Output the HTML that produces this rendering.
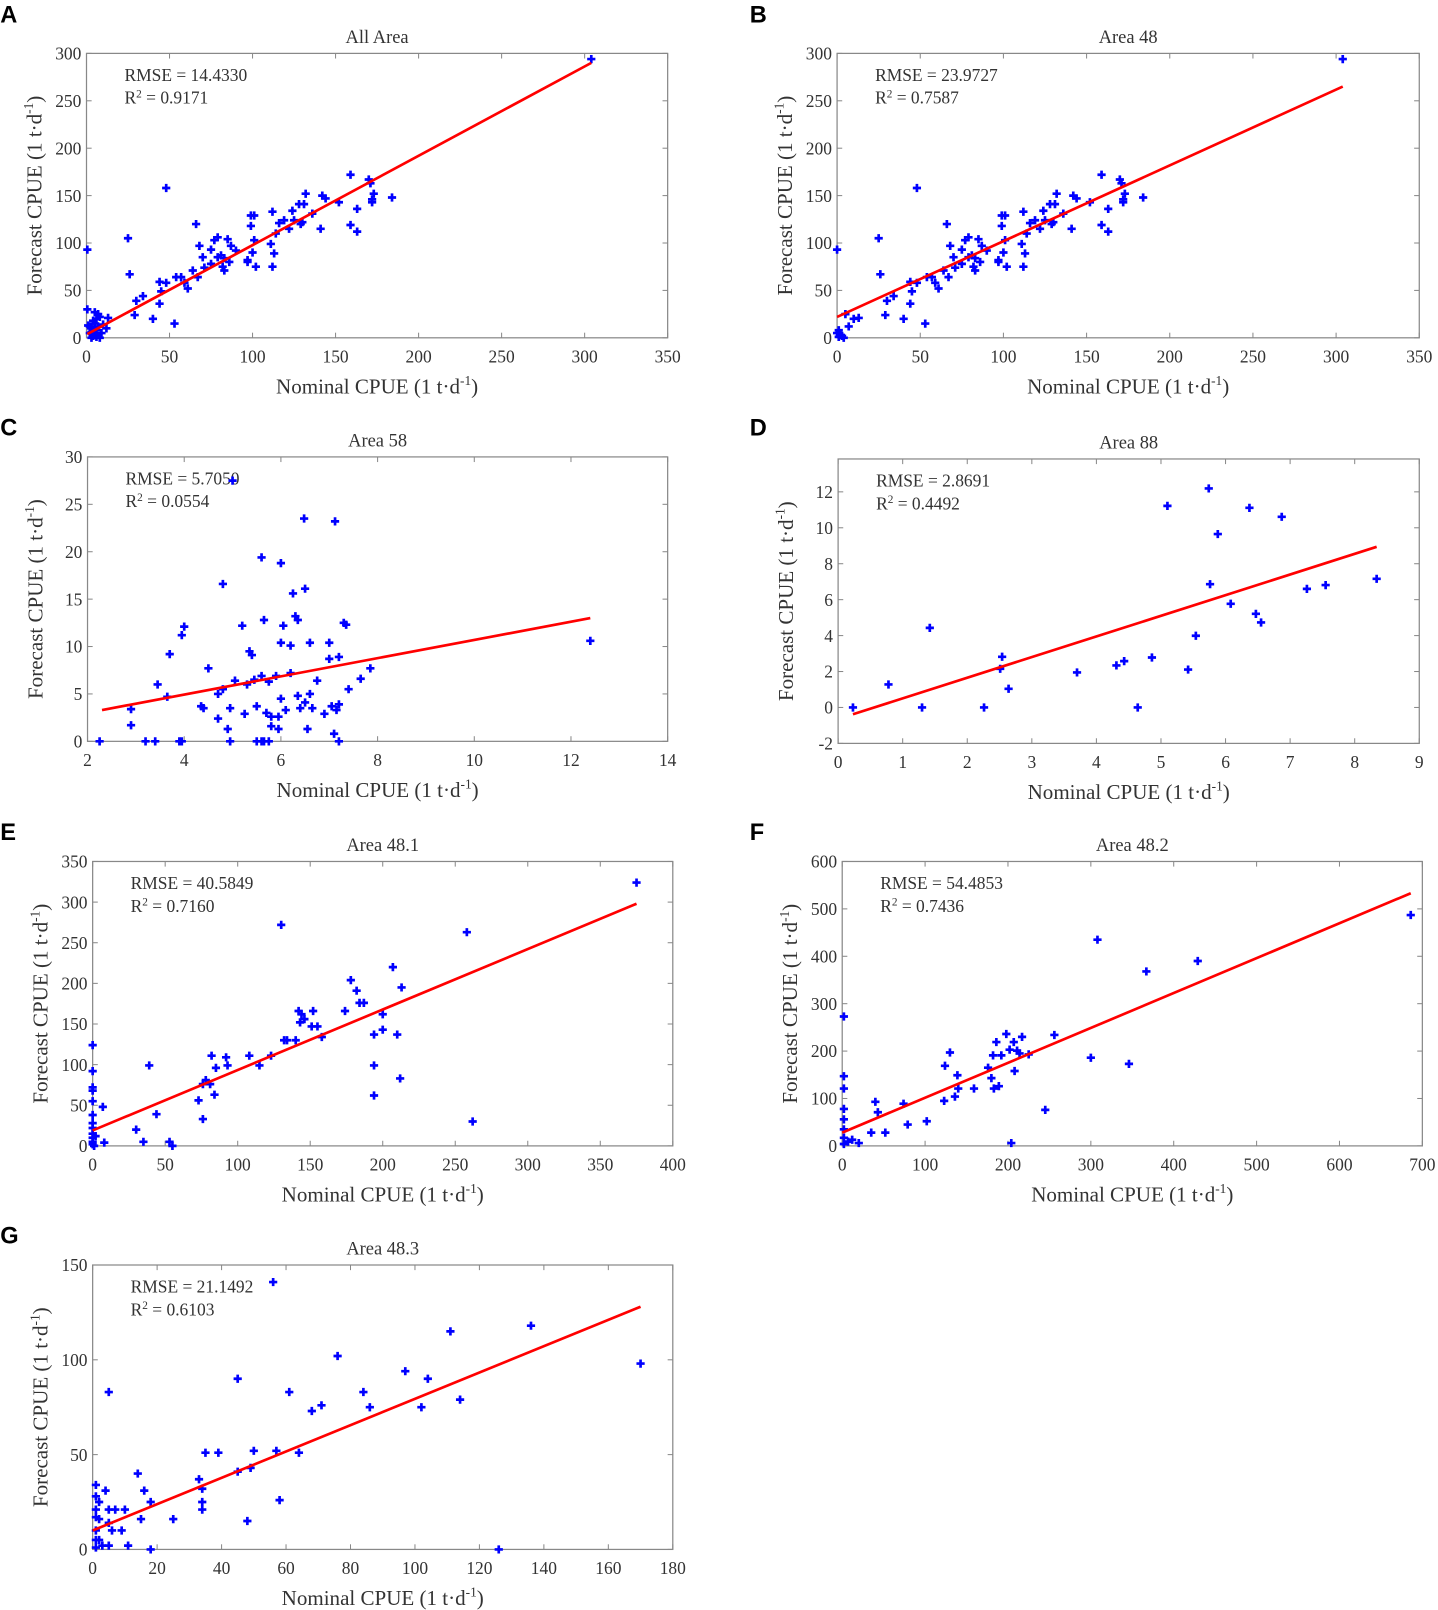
<!DOCTYPE html>
<html><head><meta charset="utf-8"><style>
html,body{margin:0;padding:0;background:#fff}
svg{display:block}
text{font-family:"Liberation Serif",serif;fill:#333}
.lt{font-family:"Liberation Sans",sans-serif;font-weight:bold;fill:#000;font-size:23px}
</style></head><body>
<svg id="fig" width="1438" height="1610" viewBox="0 0 1400 1568" xmlns="http://www.w3.org/2000/svg"></svg>
<script>
// ---- data ----
const aX=[304,48,25,26,0.5,66,0.5,29,30,34,40,44,44,48,45,53,54,57,59,61,64,67,68,70,71,75,75,77,79,79,81,82,83,83,85,87,86,90,97,97,99,99,101,100,101,102,111,112,112,113,114,116,119,122,124,125,128,129,130,131,132,136,141,142,144,152,159,159,163,163,170,171,172,173,172,184,2,3,4,5,6,7,5,8,3,2,6,9,4,7,13,12,1,5,8,6,3,10];
const aY=[294,158,105,67,93,120,30,24,39,44,20,36,59,58,49,15,64,64,58,52,71,64,97,85,74,78,93,103,106,85,87,75,71,84,104,97,80,92,82,80,129,118,129,90,103,75,99,133,75,89,110,121,124,115,134,124,141,120,122,141,152,131,115,150,147,143,172,119,136,112,167,163,146,152,143,148,5,10,2,15,20,25,27,22,0,12,8,5,18,12,21,10,13,3,0,1,6,14];
const bClusterX=[0,0,1,2,3,5,7,10,4,1];
const bClusterY=[93,5,8,3,2,25,12,20,0,1];
const cX=[5.0,6.48,7.12,5.6,6.0,4.8,6.25,6.5,6.3,6.35,4.0,3.95,5.2,5.65,6.05,7.3,7.35,3.7,4.5,5.35,5.4,6.0,6.2,6.6,7.0,7.2,7.0,7.85,5.6,3.45,3.65,4.7,4.8,5.05,5.3,5.45,5.75,5.9,6.2,6.35,6.6,6.75,7.4,7.65,6.0,2.9,2.9,4.35,4.4,4.95,5.25,5.5,5.7,5.8,5.95,6.1,6.4,6.5,6.65,7.05,7.2,7.15,4.7,4.9,5.8,5.95,6.55,6.9,7.1,2.25,3.2,3.4,3.9,3.95,4.95,5.5,5.6,5.65,5.75,7.2,12.4];
const cY=[27.5,23.5,23.2,19.4,18.8,16.6,15.6,16.1,13.2,12.8,12.1,11.2,12.2,12.8,12.2,12.5,12.3,9.2,7.7,9.5,9.1,10.4,10.1,10.4,10.4,8.9,8.7,7.7,6.9,6.0,4.7,5.0,5.5,6.4,6.0,6.5,6.3,6.9,7.2,4.8,5.0,6.4,5.5,6.6,4.5,3.4,1.7,3.7,3.5,3.5,2.9,3.7,3.0,2.6,2.6,3.3,3.5,4.1,3.5,3.7,3.9,3.3,2.4,1.3,1.6,1.3,1.3,2.9,0.8,0,0,0,0,0,0,0,0,0,0,0,10.6];
const dX=[0.23,0.78,1.3,1.42,2.26,2.54,2.51,2.64,3.7,4.31,4.43,4.64,4.86,5.1,5.42,5.54,5.74,5.76,5.88,6.08,6.37,6.47,6.55,6.87,7.26,7.55,8.34];
const dY=[0,1.28,0,4.43,0,2.82,2.15,1.04,1.95,2.34,2.58,0,2.78,11.22,2.11,3.99,12.19,6.86,9.65,5.77,11.11,5.21,4.73,10.61,6.6,6.81,7.16];
const eX=[375,130,258,207,178,182,184,187,174,213,0,142,144,146,143,152,151,155,158,134,132,140,108,123,115,82,92,93,85,78,81,76,84,73,76,39,200,194,200,210,194,194,212,262,44,30,35,7,8,53,55,0,0,0,0,0,0,0,0,0,0,0,1,2];
const eY=[324,272,263,220,204,191,176,176,166,195,124,166,162,156,152,166,147,147,134,130,130,130,111,111,99,111,109,99,96,81,76,76,63,56,33,99,162,137,143,137,99,62,83,30,39,20,5,48,4,5,0,92,72,68,55,38,28,22,15,10,5,2,0,12];
const fX=[686,308,367,429,256,300,346,245,2,2,2,2,2,2,2,2,7,12,20,40,43,35,52,74,79,102,123,130,124,139,140,136,159,176,180,182,186,183,189,192,198,202,207,208,211,217,214,225,204];
const fY=[487,435,368,390,234,186,173,76,273,147,121,78,56,35,17,4,9,13,6,93,71,28,28,89,45,52,95,197,169,149,121,104,121,165,143,191,219,121,126,191,236,203,219,158,201,230,195,193,6];
const gX=[56,136,111,76,170,97,104,5,45,61,84,86,71,68,102,114,35,39,50,57,64,45,49,33,14,34,34,34,16,18,25,48,58,15,1,1,1,1,1,1,1,2,2,4,5,6,7,9,10,5,3,11,18,126,2,5];
const gY=[141,118,115,102,98,94,90,83,90,83,83,75,76,73,75,79,51,51,52,52,51,41,43,37,40,32,25,21,31,25,16,15,26,16,34,28,21,17,10,5,1,5,25,31,21,10,21,10,21,2,2,2,0,0,16,14];
const fitA=[0.5,4,304,290], fitB=[0,22,304,265], fitC=[2.3,3.3,12.4,13.0], fitD=[0.23,-0.38,8.34,8.94];
const fitE=[0,19,375,298], fitF=[0,28,686,533], fitG=[0,10,170,128];
const ticksA=[0,50,100,150,200,250,300,350], ticksAY=[0,50,100,150,200,250,300];
const ticksC=[2,4,6,8,10,12,14], ticksCY=[0,5,10,15,20,25,30];
const ticksD=[0,1,2,3,4,5,6,7,8,9], ticksDY=[-2,0,2,4,6,8,10,12];
const ticksE=[0,50,100,150,200,250,300,350,400], ticksEY=[0,50,100,150,200,250,300,350];
const ticksF=[0,100,200,300,400,500,600,700], ticksFY=[0,100,200,300,400,500,600];
const ticksG=[0,20,40,60,80,100,120,140,160,180], ticksGY=[0,50,100,150];

const NS="http://www.w3.org/2000/svg", svg=document.getElementById('fig');
function mk(tag,attrs,parent){const e=document.createElementNS(NS,tag);for(const k in attrs)e.setAttribute(k,attrs[k]);(parent||svg).appendChild(e);return e;}

function panel(p){
  const g=mk('g',{});
  
  
  const sx=v=>p.L+(v-p.xr[0])/(p.xr[1]-p.xr[0])*(p.R-p.L);
  const sy=v=>p.B-(v-p.yr[0])/(p.yr[1]-p.yr[0])*(p.B-p.T);
  const lt=mk('text',{x:p.lx,y:p.ly,'class':'lt'},g); lt.textContent=p.letter;
  
  
  const t=mk('text',{x:(p.L+p.R)/2,y:p.T-10,'text-anchor':'middle','font-size':18,fill:'#222'},g); t.textContent=p.title;
  
  
  const box=mk('rect',{x:p.L,y:p.T,width:p.R-p.L,height:p.B-p.T,fill:'none',stroke:'#888','stroke-width':1.2},g);
  
  
  p.xt.forEach(v=>{const x=sx(v);
    mk('line',{x1:x,x2:x,y1:p.B,y2:p.B-5,stroke:'#888'},g);mk('line',{x1:x,x2:x,y1:p.T,y2:p.T+5,stroke:'#888'},g);
    const tx=mk('text',{x:x,y:p.B+24,'text-anchor':'middle','font-size':17},g);tx.textContent=v;
    
    });
  p.yt.forEach(v=>{const y=sy(v);
    mk('line',{x1:p.L,x2:p.L+5,y1:y,y2:y,stroke:'#888'},g);mk('line',{x1:p.R,x2:p.R-5,y1:y,y2:y,stroke:'#888'},g);
    const ty=mk('text',{x:p.L-5,y:y+6,'text-anchor':'end','font-size':17},g);ty.textContent=v;
    
    });
  const xl=mk('text',{x:(p.L+p.R)/2,y:p.B+54,'text-anchor':'middle','font-size':20.5},g);
  xl.innerHTML='Nominal CPUE (1 t·d<tspan dy="-8" font-size="13">-1</tspan><tspan dy="8">)</tspan>';
  
  
  const cy=(p.T+p.B)/2;
  const yl=mk('text',{x:p.L-44,y:cy,'text-anchor':'middle','font-size':20.5,transform:'rotate(-90 '+(p.L-44)+' '+cy+')'},g);
  yl.innerHTML='Forecast CPUE (1 t·d<tspan dy="-8" font-size="13">-1</tspan><tspan dy="8">)</tspan>';
  
  
  const s1=mk('text',{x:p.L+37,y:p.T+27,'font-size':17,fill:'#111'},g);s1.textContent='RMSE = '+p.rmse;
  
  
  const s2=mk('text',{x:p.L+37,y:p.T+49,'font-size':17,fill:'#111'},g);
  s2.innerHTML='R<tspan dy="-6" font-size="11">2</tspan><tspan dy="6"> = '+p.r2+'</tspan>';
  
  
  const pts=mk('g',{stroke:'#0000ff','stroke-width':2.6},g);
  
  
  p.x.forEach((v,i)=>{const X=sx(v),Y=sy(p.y[i]);
    const m=mk('path',{d:`M${X-4} ${Y}H${X+4}M${X} ${Y-4}V${Y+4}`},pts);
    
    });
  const f=p.fit;
  const ln=mk('line',{x1:sx(f[0]),y1:sy(f[1]),x2:sx(f[2]),y2:sy(f[3]),stroke:'#ff0000','stroke-width':2.6},g);
  
  
}
const bigX=aX.filter(v=>v>12), bigY=aY.filter((v,i)=>aX[i]>12);
panel({id:'a',letter:'A',lx:0,ly:22,title:'All Area',L:84,R:650,T:52,B:329,xr:[0,350],yr:[0,300],xt:ticksA,yt:ticksAY,x:aX,y:aY,fit:fitA,rmse:'14.4330',r2:'0.9171'});
panel({id:'b',letter:'B',lx:730,ly:22,title:'Area 48',L:815,R:1382,T:52,B:329,xr:[0,350],yr:[0,300],xt:ticksA,yt:ticksAY,x:bigX.concat(bClusterX),y:bigY.concat(bClusterY),fit:fitB,rmse:'23.9727',r2:'0.7587'});
panel({id:'c',letter:'C',lx:0,ly:424,title:'Area 58',L:85,R:650,T:445,B:722,xr:[2,14],yr:[0,30],xt:ticksC,yt:ticksCY,x:cX,y:cY,fit:fitC,rmse:'5.7050',r2:'0.0554'});
panel({id:'d',letter:'D',lx:730,ly:424,title:'Area 88',L:816,R:1382,T:447,B:724,xr:[0,9],yr:[-2,13.83],xt:ticksD,yt:ticksDY,x:dX,y:dY,fit:fitD,rmse:'2.8691',r2:'0.4492'});
panel({id:'e',letter:'E',lx:0,ly:818,title:'Area 48.1',L:90,R:655,T:839,B:1116,xr:[0,400],yr:[0,350],xt:ticksE,yt:ticksEY,x:eX,y:eY,fit:fitE,rmse:'40.5849',r2:'0.7160'});
panel({id:'f',letter:'F',lx:730,ly:818,title:'Area 48.2',L:820,R:1385,T:839,B:1116,xr:[0,700],yr:[0,600],xt:ticksF,yt:ticksFY,x:fX,y:fY,fit:fitF,rmse:'54.4853',r2:'0.7436'});
panel({id:'g',letter:'G',lx:0,ly:1211,title:'Area 48.3',L:90,R:655,T:1232,B:1509,xr:[0,180],yr:[0,150],xt:ticksG,yt:ticksGY,x:gX,y:gY,fit:fitG,rmse:'21.1492',r2:'0.6103'});
</script>
</body></html>
